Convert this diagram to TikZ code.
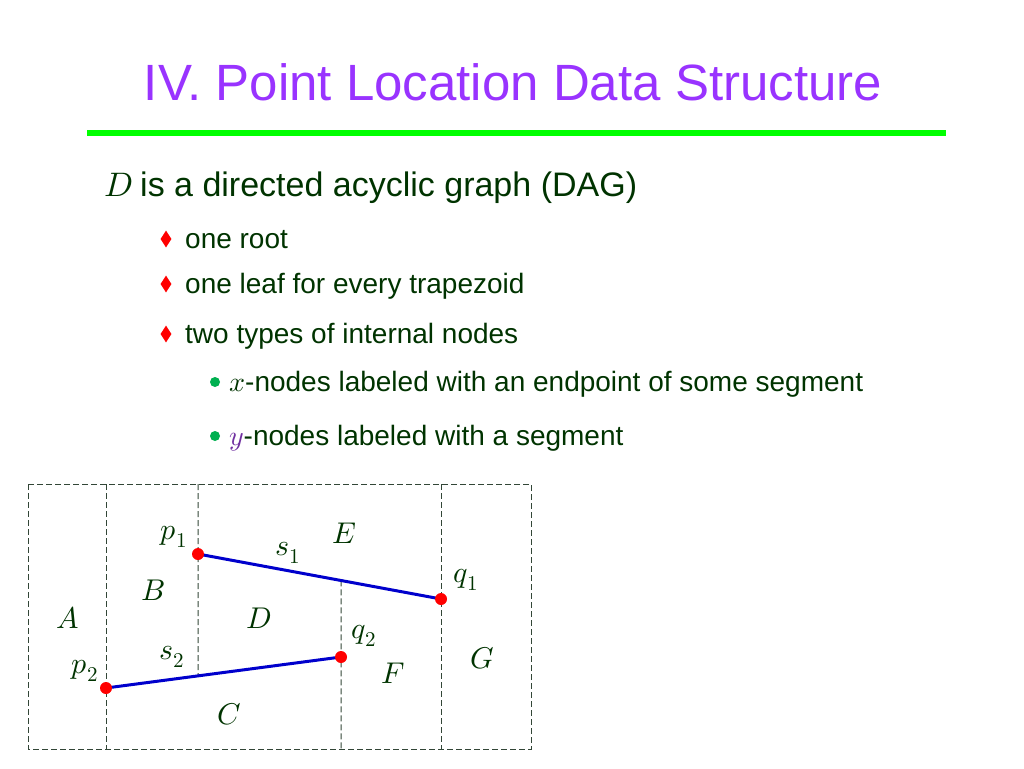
\documentclass[tikz,border=0pt]{standalone}
\usepackage{fontspec}
\usepackage{unicode-math}
\setmainfont{Liberation Sans}
\setmathfont{Latin Modern Math}
\usepackage{tikz}
\usetikzlibrary{shapes.geometric, calc, positioning}
\definecolor{titlepurple}{RGB}{153,51,255}
\definecolor{textgreen}{RGB}{0,51,0}
\definecolor{rulegreen}{RGB}{0,255,0}
\definecolor{dotgreen}{RGB}{0,176,80}
\definecolor{ypurple}{RGB}{112,48,160}
\definecolor{segblue}{RGB}{0,0,204}
\definecolor{wallgray}{RGB}{50,70,55}
\tikzset{
    headline/.style={
        anchor=base,
        inner sep=0pt,
        text=titlepurple,
        font=\fontsize{51}{60}\selectfont
    },
    bigline/.style={
        anchor=base west,
        inner sep=0pt,
        text=textgreen,
        font=\fontsize{34}{40}\selectfont
    },
    item/.style={
        anchor=base west,
        inner sep=0pt,
        text=textgreen,
        font=\fontsize{28}{34}\selectfont
    },
    reddiamond/.style={
        diamond,
        fill=red,
        inner sep=0pt,
        minimum width=11pt,
        minimum height=17pt
    },
    greendot/.style={
        circle,
        fill=dotgreen,
        inner sep=0pt,
        minimum size=10pt
    },
    wall/.style={
        draw=wallgray,
        line width=1pt,
        dash pattern=on 6pt off 3pt
    },
    seg/.style={
        draw=segblue,
        line width=3pt
    },
    endpt/.style={
        circle,
        fill=red,
        inner sep=0pt,
        minimum size=12pt
    },
    lbl/.style={
        text=textgreen,
        inner sep=0pt,
        font=\fontsize{30}{34}\selectfont
    }
}
\begin{document}
\begin{tikzpicture}[x=1pt, y=-1pt]
\useasboundingbox (0,0) rectangle (1024,768);

% heading
\node[headline] (title) at (513,100) {IV. Point Location Data Structure};
\coordinate (rl) at (87,133);
\coordinate (rr) at (946,133);
\draw[rulegreen, line width=6pt] (rl) -- (rr);

% text
\node[bigline] (dmath) at (104,196) {$D$};
\node[bigline] (line1) at (140,196) {is a directed acyclic graph (DAG)};
\node[item] (it1) at (185,248) {one root};
\node[item] (it2) at (185,293) {one leaf for every trapezoid};
\node[item] (it3) at (185,343) {two types of internal nodes};
\node[reddiamond] (d1) at (166,239) {};
\node[reddiamond] (d2) at (166,284) {};
\node[reddiamond] (d3) at (166,334) {};
\node[item] (sub1) at (229,391) {$x$-nodes labeled with an endpoint of some segment};
\node[item] (sub2) at (229,445) {\textcolor{ypurple}{$y$}-nodes labeled with a segment};
\node[greendot] (g1) at (215,382) {};
\node[greendot] (g2) at (215,436) {};

% trapezoidal map
\coordinate (nw) at (28,484);
\coordinate (se) at (531,749);
\coordinate (p1) at (198,554);
\coordinate (q1) at (441,599);
\coordinate (p2) at (106,688);
\coordinate (q2) at (341,657);
\coordinate (hit2) at ($(p2)!0.3915!(q2)$);
\coordinate (hit1) at ($(p1)!0.5885!(q1)$);

\draw[wall] (nw) rectangle (se);
\draw[wall] (p2 |- nw) -- (p2 |- se);
\draw[wall] (p1 |- nw) -- (hit2);
\draw[wall] (hit1) -- (q2 |- se);
\draw[wall] (q1 |- nw) -- (q1 |- se);

\draw[seg] (p1) -- (q1);
\draw[seg] (p2) -- (q2);
\foreach \pt in {p1,q1,p2,q2}
    \node[endpt] at (\pt) {};

\node[lbl] (lp1) at (174,537) {$p_1$};
\node[lbl] (ls1) at (288,553) {$s_1$};
\node[lbl] (lE) at (344,533) {$E$};
\node[lbl] (lq1) at (466,580) {$q_1$};
\node[lbl] (lB) at (153,590) {$B$};
\node[lbl] (lA) at (68,618) {$A$};
\node[lbl] (lD) at (259,618) {$D$};
\node[lbl] (lq2) at (364,636) {$q_2$};
\node[lbl] (ls2) at (172,657) {$s_2$};
\node[lbl] (lG) at (482,658) {$G$};
\node[lbl] (lp2) at (85,671) {$p_2$};
\node[lbl] (lF) at (393,673) {$F$};
\node[lbl] (lC) at (229,714) {$C$};
\end{tikzpicture}
\end{document}
